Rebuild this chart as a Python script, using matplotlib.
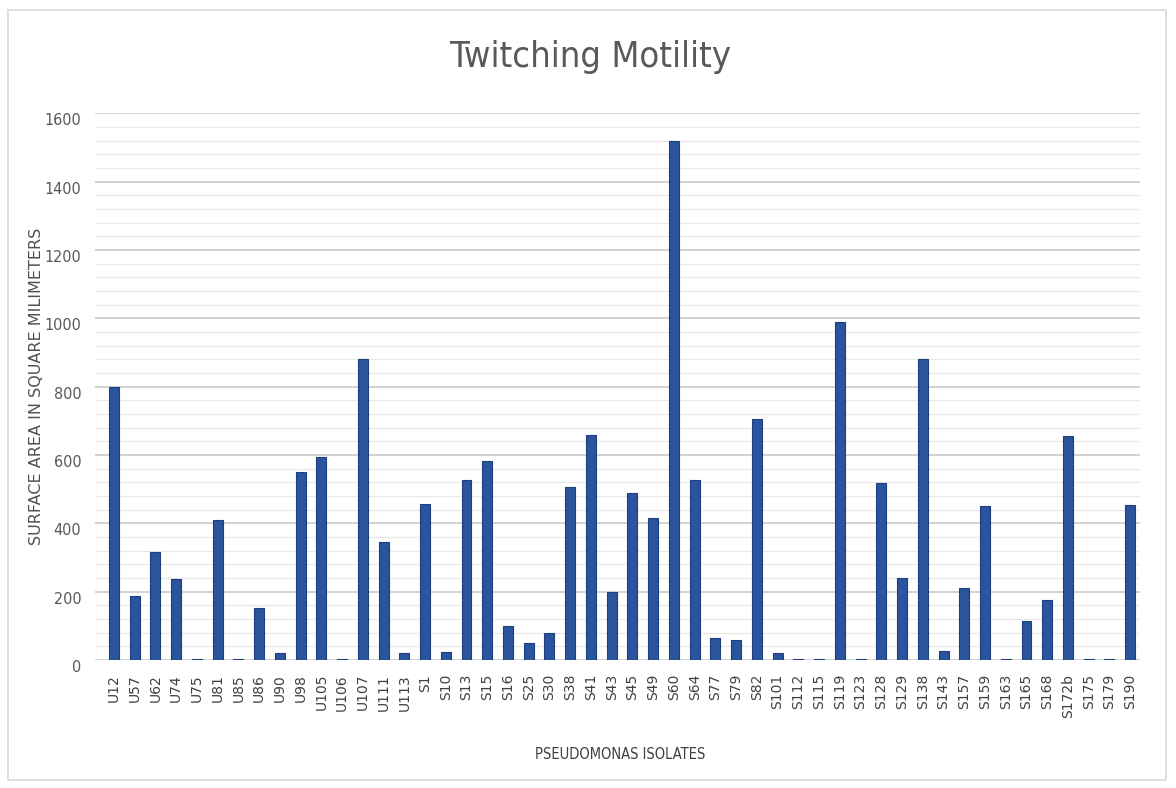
import matplotlib
matplotlib.use("Agg")
import matplotlib.pyplot as plt
from matplotlib.patches import Rectangle
from matplotlib.ticker import MultipleLocator
from matplotlib import font_manager

isolates = ["U12", "U57", "U62", "U74", "U75", "U81", "U85", "U86", "U90", "U98",
            "U105", "U106", "U107", "U111", "U113", "S1", "S10", "S13", "S15", "S16",
            "S25", "S30", "S38", "S41", "S43", "S45", "S49", "S60", "S64", "S77",
            "S79", "S82", "S101", "S112", "S115", "S119", "S123", "S128", "S129", "S138",
            "S143", "S157", "S159", "S163", "S165", "S168", "S172b", "S175", "S179", "S190"]
surface_area = [798, 187, 317, 238, 2, 410, 2, 151, 22, 550,
                593, 2, 880, 346, 21, 456, 24, 527, 583, 100,
                50, 78, 505, 658, 198, 490, 415, 1520, 528, 65,
                58, 705, 22, 2, 2, 990, 2, 518, 240, 880,
                25, 210, 450, 2, 115, 175, 655, 2, 2, 455]
y_ticks = [0, 200, 400, 600, 800, 1000, 1200, 1400, 1600]

# Narrow face for the numeric and title text
narrow = font_manager.FontProperties(family="DejaVu Sans", stretch="condensed")

fig = plt.figure(figsize=(11.76, 7.88), dpi=100)
fig.patches.append(Rectangle((8 / 1176, 8 / 788), 1158 / 1176, 770 / 788,
                             transform=fig.transFigure, fill=False,
                             edgecolor="#d9d9d9", linewidth=1.2))

ax = fig.add_axes([0.081, 0.1624, 0.888, 0.694])
x = range(len(isolates))
ax.bar(x, surface_area, width=0.48, color="#2a549d", edgecolor="#1c3f7d",
       linewidth=0.8, zorder=3)

ax.set_ylim(0, 1600)
ax.set_xlim(-0.9, len(isolates) - 0.55)
ax.set_yticks(y_ticks)
ax.yaxis.set_minor_locator(MultipleLocator(40))
ax.grid(axis="y", which="major", color="#cfcfcf", linewidth=1.3, zorder=0)
ax.grid(axis="y", which="minor", color="#e8e8e8", linewidth=0.9, zorder=0)
ax.tick_params(axis="y", which="both", length=0, colors="#595959", pad=10)
ax.tick_params(axis="x", length=0, pad=10)
for lbl in ax.get_yticklabels():
    lbl.set_fontproperties(narrow)
    lbl.set_fontsize(11.5)
    lbl.set_va("top")

ax.set_xticks(list(x))
ax.set_xticklabels(isolates, rotation=90, fontsize=10, color="#404040",
                   family="DejaVu Sans")
for s in ax.spines.values():
    s.set_visible(False)

fig.text(0.502, 0.928, "Twitching Motility", ha="center", va="center",
         fontproperties=narrow, fontsize=26, color="#595959")
fig.text(0.031, 0.51, "SURFACE AREA IN SQUARE MILIMETERS", rotation=90,
         ha="center", va="center", fontsize=11.5, color="#505050",
         family="DejaVu Sans")
fig.text(0.527, 0.042, "PSEUDOMONAS ISOLATES", ha="center", va="center",
         fontproperties=narrow, fontsize=10.5, color="#404040")

fig.savefig("out.png", dpi=100, facecolor="white")
